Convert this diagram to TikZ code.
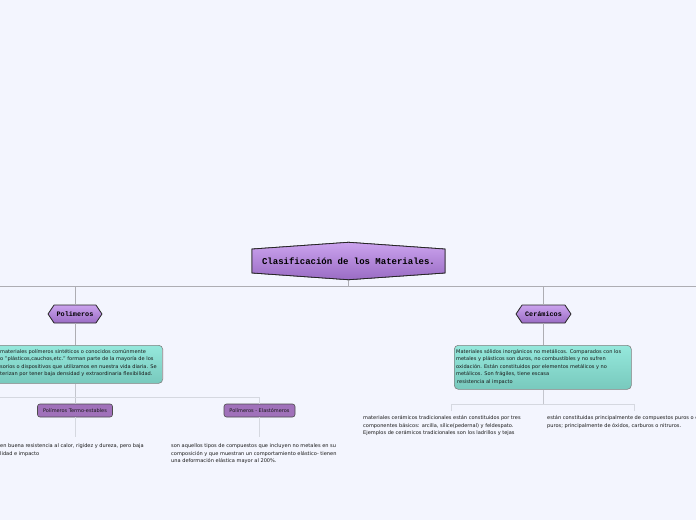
\documentclass[tikz,border=0pt]{standalone}
\usepackage{fontspec}
\setmainfont{DejaVu Sans}
\newfontfamily\monob{Liberation Mono}
\usetikzlibrary{shapes.symbols}
\definecolor{bgc}{HTML}{F3F5FE}
\definecolor{conn}{HTML}{ADADB3}
\definecolor{connm}{HTML}{C4C6CE}
\definecolor{connl}{HTML}{D5D8E0}
\definecolor{purtop}{HTML}{CBA3EE}
\definecolor{purbot}{HTML}{9A6CC4}
\definecolor{tealtop}{HTML}{95E8DC}
\definecolor{tealbot}{HTML}{78C9BD}
\definecolor{subpur}{HTML}{A071BA}
\tikzset{
  hexa/.style={shape=signal, draw=black!85, line width=0.8pt, top color=purtop, bottom color=purbot, inner sep=0pt},
  descbox/.style={draw=black!50, line width=0.6pt, rounded corners=4pt, top color=tealtop, bottom color=tealbot, inner sep=0pt},
  subbox/.style={draw=black!70, line width=0.6pt, rounded corners=2.5pt, fill=subpur, minimum height=13pt, inner sep=0pt, font=\fontsize{5}{6}\selectfont, text=black!90},
  smalltxt/.style={anchor=north west, inner sep=0pt, align=left, font=\fontsize{5.05}{7.5}\selectfont, text=black!90},
  link/.style={draw=conn, line width=0.9pt},
  linkm/.style={draw=connm, line width=0.9pt},
  linkl/.style={draw=connl, line width=0.9pt}
}
\begin{document}
\begin{tikzpicture}[x=1pt,y=-1pt]
\useasboundingbox (0,0) rectangle (696,520);
\fill[bgc] (0,0) rectangle (696,520);
\clip (0,0) rectangle (696,520);

% bus coordinates
\coordinate (busL) at (-5,286);
\coordinate (busR) at (701,286);
\coordinate (pbusL) at (-5,397);

% nodes
\node[hexa, signal to=north and south, signal pointer angle=172, minimum width=193pt, minimum height=36pt,
      font=\monob\bfseries\fontsize{9}{10}\selectfont] (title) at (348.5,261) {Clasificación de los Materiales.};

\node[hexa, signal to=east and west, signal pointer angle=112, minimum width=54pt, minimum height=18pt,
      font=\monob\bfseries\fontsize{6.8}{8}\selectfont] (pol) at (75,314) {Polimeros};
\node[hexa, signal to=east and west, signal pointer angle=112, minimum width=55pt, minimum height=18pt,
      font=\monob\bfseries\fontsize{6.8}{8}\selectfont] (cer) at (543.5,314) {Cerámicos};

% polymer description
\node[descbox, minimum width=170pt, minimum height=38pt, anchor=north east] (pdesc) at (163,345) {};
\node[smalltxt] (pdesctxt) at (0,349) {materiales polímeros sintéticos o conocidos comúnmente\\
o "plásticos,cauchos,etc." forman parte de la mayoría de los\\
sorios o dispositivos que utilizamos en nuestra vida diaria. Se\\
terizan por tener baja densidad y extraordinaria flexibilidad.};

% ceramic description
\node[descbox, minimum width=177pt, minimum height=44pt, anchor=north west] (cdesc) at (454,345) {};
\node[smalltxt] (cdesctxt) at (456,349) {Materiales sólidos inorgánicos no metálicos. Comparados con los\\
metales y plásticos son duros, no combustibles y no sufren\\
oxidación. Están constituidos por elementos metálicos y no\\
metálicos. Son frágiles, tiene escasa\\
\hspace*{1pt}resistencia al impacto};

% polymer sub-types
\node[subbox, minimum width=75pt] (termo) at (75,410.5) {Polímeros Termo-estables};
\node[subbox, minimum width=71pt] (elast) at (259.5,410.5) {Polímeros - Elastómeros};

\node[smalltxt] (termotxt) at (0,443.5) {en buena resistencia al calor, rigidez y dureza, pero baja\\
lidad e impacto};
\node[smalltxt] (elasttxt) at (171,443.5) {son aquellos tipos de compuestos que incluyen no metales en su\\
composición y que muestran un comportamiento elástico- tienen\\
una deformación elástica mayor al 200\%.};

% ceramic children texts
\node[smalltxt] (ctrad) at (363,415.5) {materiales cerámicos tradicionales están constituidos por tres\\
componentes básicos: arcilla, sílice(pedernal) y feldespato.\\
Ejemplos de cerámicos tradicionales son los ladrillos y tejas};
\node[smalltxt] (cing) at (547,415.5) {están constituidas principalmente de compuestos puros o casi\\
puros; principalmente de óxidos, carburos o nitruros.};

\coordinate (tdrop) at (75,437);
\coordinate (edrop) at (259.5,437);
\coordinate (c1drop) at (451,411);
\coordinate (c2drop) at (634,411);

% connectors
\path[link] (busL) -- (busR);
\path[link] (title.south) -- (title.south |- busL);
\path[link] (pol.north |- busL) -- (pol.north);
\path[link] (cer.north |- busL) -- (cer.north);
\path[link] (pol.south) -- (pdesc.north -| pol.south);
\path[link] (cer.south) -- (cdesc.north -| cer.south);

\path[linkm] (pdesc.south -| pol.south) -- (termo.north);
\path[linkl] (pbusL) -- (pbusL -| elast.north) -- (elast.north);
\path[linkl] (termo.south) -- (tdrop);
\path[linkl] (elast.south) -- (edrop);

\path[linkm] (cdesc.south -| cer.south) -- (cer.south |- 0,404);
\path[linkl] (c1drop) -- (c1drop |- 0,404) -- (c2drop |- 0,404) -- (c2drop);

% redraw title above connectors
\node[hexa, signal to=north and south, signal pointer angle=172, minimum width=193pt, minimum height=36pt,
      font=\monob\bfseries\fontsize{9}{10}\selectfont] at (title) {Clasificación de los Materiales.};
\end{tikzpicture}
\end{document}
